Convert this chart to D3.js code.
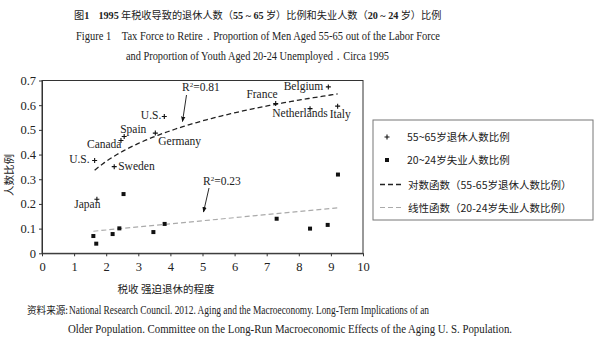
<!DOCTYPE html>
<html><head><meta charset="utf-8">
<script src="https://cdn.jsdelivr.net/npm/d3@7"></script>
<style>
body{margin:0;background:#fff;}
svg{display:block;}
text{white-space:pre;}
.serif{font-family:"Liberation Serif","DejaVu Serif",serif;}
.cjk{font-family:"Noto Sans CJK SC",sans-serif;}
</style></head>
<body>
<svg id="chart" width="606" height="342"></svg>
<script>
// ---- data ----
const retireCountries = ["U.S.","Canada","Spain","Sweden","Germany","U.S.","Japan","France","Belgium","Netherlands","Italy"];
const retireX = [1.64,2.46,2.56,2.25,3.53,3.81,1.71,7.28,8.92,8.35,9.21];
const retireY = [0.376,0.457,0.473,0.351,0.487,0.554,0.219,0.607,0.674,0.586,0.596];
const unempX = [2.54,1.60,1.69,2.20,2.41,3.47,3.82,7.31,8.35,8.90,9.22];
const unempY = [0.240,0.070,0.039,0.078,0.101,0.086,0.119,0.140,0.100,0.115,0.319];
const xTicks = [0,1,2,3,4,5,6,7,8,9,10];
const yTicks = [0,0.1,0.2,0.3,0.4,0.5,0.6,0.7];
const r2Labels = ["0.81","0.23"];
const legendLabels = ["55~65岁退休人数比例","20~24岁失业人数比例","对数函数（55-65岁退休人数比例）","线性函数（20-24岁失业人数比例）"];
const xAxisTitle = "税收 强迫退休的程度";
const yAxisTitle = "人数比例";

// label placement (styling only)
const labelLayout = [
  {dx:-5,dy:2.5,a:"end"},{dx:0.5,dy:8,a:"end"},{dx:-4,dy:-3.5,a:"start"},{dx:4,dy:3.5,a:"start"},
  {dx:3,dy:12,a:"start"},{dx:-3,dy:2,a:"end"},{dx:3.5,dy:8.5,a:"end"},{dx:2,dy:-5.5,a:"end"},
  {dx:-5,dy:3,a:"end"},{dx:-10,dy:8.5,a:"middle"},{dx:-8,dy:12,a:"start"}
];

const svg = d3.select("#chart");
const L=42, R=363, T=80.5, B=253.3;
const x = d3.scaleLinear().domain([0,10]).range([L,R]);
const y = d3.scaleLinear().domain([0,0.7]).range([B,T]);

function fitWidth(sel, target){
  const fs = +sel.attr("font-size");
  const w = sel.node().getComputedTextLength();
  sel.attr("font-size", fs*target/w);
}

// ---- titles ----
const t1 = svg.append("text").attr("class","cjk").attr("x",74).attr("y",19)
  .attr("font-size",12).attr("fill","#222");
[["图",0],["1",1],["\u00a0\u00a0\u00a0\u00a0",0],["1995",1],["\u00a0年税收导致的退休人数（",0],["55\u00a0~\u00a065",1],["\u00a0岁）比例和失业人数（",0],["20\u00a0~\u00a024",1],["\u00a0岁）比例",0]]
  .forEach(([s,b])=>{
    const ts=t1.append("tspan").text(s);
    if(b){ts.attr("font-weight","bold").attr("font-family","Liberation Serif, serif");}
  });
fitWidth(t1,368);
svg.append("text").attr("class","serif").attr("x",76).attr("y",40).attr("font-size",12).attr("fill","#222")
  .attr("textLength",364).attr("lengthAdjust","spacingAndGlyphs")
  .text("Figure 1\u00a0\u00a0\u00a0\u00a0Tax Force to Retire．Proportion of Men Aged 55-65 out of the Labor Force");
svg.append("text").attr("class","serif").attr("x",126).attr("y",60).attr("font-size",12).attr("fill","#222")
  .attr("textLength",263).attr("lengthAdjust","spacingAndGlyphs")
  .text("and Proportion of Youth Aged 20-24 Unemployed．Circa 1995");

// ---- plot frame ----
svg.append("rect").attr("x",L).attr("y",T).attr("width",R-L).attr("height",B-T)
  .attr("fill","none").attr("stroke","#333").attr("stroke-width",1);

const xAxis = svg.append("g").attr("transform",`translate(0,${B})`)
  .call(d3.axisBottom(x).tickValues(xTicks).tickSize(3).tickSizeOuter(0).tickPadding(6).tickFormat(d3.format("d")));
const yAxis = svg.append("g").attr("transform",`translate(${L},0)`)
  .call(d3.axisLeft(y).tickValues(yTicks).tickSize(3).tickSizeOuter(0).tickPadding(3)
    .tickFormat(d=>d===0?"0":d3.format(".1f")(d)));
[xAxis,yAxis].forEach(g=>{
  g.selectAll(".domain").attr("stroke","#333");
  g.selectAll(".tick line").attr("stroke","#333");
  g.selectAll("text").attr("font-family","Liberation Serif, serif").attr("font-size",12.5).attr("fill","#222");
});

// axis titles
svg.append("text").attr("class","cjk").attr("x",166).attr("y",293).attr("text-anchor","middle")
  .attr("font-size",10.5).attr("fill","#222").text(xAxisTitle);
svg.append("text").attr("class","cjk").attr("transform","translate(13,175) rotate(-90)").attr("text-anchor","middle")
  .attr("font-size",10.5).attr("fill","#222").text(yAxisTitle);

// ---- fits (least squares from data) ----
function logFit(xs,ys){
  const lx=xs.map(Math.log), mx=d3.mean(lx), my=d3.mean(ys);
  const b=d3.sum(lx,(v,i)=>(v-mx)*(ys[i]-my))/d3.sum(lx,v=>(v-mx)**2);
  return {a:my-b*mx,b};
}
function linFit(xs,ys){
  const mx=d3.mean(xs), my=d3.mean(ys);
  const b=d3.sum(xs,(v,i)=>(v-mx)*(ys[i]-my))/d3.sum(xs,v=>(v-mx)**2);
  return {a:my-b*mx,b};
}
const lf = logFit(retireX,retireY);
const [lx0,lx1]=d3.extent(retireX);
const logPts = d3.range(0,101).map(i=>{const xv=lx0+(lx1-lx0)*i/100;return [xv,lf.a+lf.b*Math.log(xv)];});
const line = d3.line().x(d=>x(d[0])).y(d=>y(d[1]));
svg.append("path").attr("d",line(logPts)).attr("fill","none").attr("stroke","#222")
  .attr("stroke-width",1.3).attr("stroke-dasharray","5,3");

const nf = linFit(unempX,unempY);
const [ux0,ux1]=d3.extent(unempX);
svg.append("path").attr("d",line([[ux0,nf.a+nf.b*ux0],[ux1,nf.a+nf.b*ux1]]))
  .attr("fill","none").attr("stroke","#aaa").attr("stroke-width",1.2).attr("stroke-dasharray","5,3");

// ---- markers ----
const plusPath = "M-2.5,0H2.5M0,-2.5V2.5";
svg.append("g").selectAll("path").data(retireX).join("path")
  .attr("transform",(d,i)=>`translate(${x(d)},${y(retireY[i])})`)
  .attr("d",plusPath).attr("stroke","#111").attr("stroke-width",1.1);
svg.append("g").selectAll("rect").data(unempX).join("rect")
  .attr("x",d=>x(d)-2).attr("y",(d,i)=>y(unempY[i])-2).attr("width",4).attr("height",4).attr("fill","#111");

// country labels
svg.append("g").selectAll("text").data(retireCountries).join("text")
  .attr("x",(d,i)=>x(retireX[i])+labelLayout[i].dx)
  .attr("y",(d,i)=>y(retireY[i])+labelLayout[i].dy)
  .attr("text-anchor",(d,i)=>labelLayout[i].a)
  .attr("font-family","Liberation Serif, serif").attr("font-size",11.5).attr("fill","#222")
  .text(d=>d);

// ---- R² annotations ----
svg.append("defs").append("marker").attr("id","ah").attr("viewBox","0 0 10 10").attr("refX",9).attr("refY",5)
  .attr("markerWidth",6).attr("markerHeight",6).attr("orient","auto")
  .append("path").attr("d","M0,1L10,5L0,9Z").attr("fill","#111");
function r2(tx,ty,val,x1,y1,x2,y2){
  const t=svg.append("text").attr("x",tx).attr("y",ty).attr("font-family","Liberation Serif, serif")
    .attr("font-size",11.5).attr("fill","#222");
  t.append("tspan").text("R");
  t.append("tspan").attr("dy",-4).attr("font-size",7).text("2");
  t.append("tspan").attr("dy",4).text("="+val);
  svg.append("line").attr("x1",x1).attr("y1",y1).attr("x2",x2).attr("y2",y2)
    .attr("stroke","#111").attr("stroke-width",0.9).attr("marker-end","url(#ah)");
}
r2(182,91,r2Labels[0],186.5,95,182.5,121.5);
r2(203,185,r2Labels[1],209,188,203.5,212);

// ---- legend ----
const lg = svg.append("g");
lg.append("rect").attr("x",373).attr("y",120).attr("width",220).attr("height",100)
  .attr("fill","#fff").attr("stroke","#777").attr("stroke-width",1);
const rowsY=[137,160,184.5,207.5];
lg.append("path").attr("transform",`translate(387,${rowsY[0]})`).attr("d",plusPath).attr("stroke","#111").attr("stroke-width",1.1);
lg.append("rect").attr("x",385).attr("y",rowsY[1]-2).attr("width",4).attr("height",4).attr("fill","#111");
lg.append("line").attr("x1",380).attr("x2",402).attr("y1",rowsY[2]).attr("y2",rowsY[2])
  .attr("stroke","#222").attr("stroke-width",1.3).attr("stroke-dasharray","5,3");
lg.append("line").attr("x1",380).attr("x2",402).attr("y1",rowsY[3]).attr("y2",rowsY[3])
  .attr("stroke","#aaa").attr("stroke-width",1.2).attr("stroke-dasharray","5,3");
lg.selectAll("text.lt").data(legendLabels).join("text").attr("class","lt cjk")
  .attr("x",(d,i)=>i<2?407:408).attr("y",(d,i)=>rowsY[i]+4).attr("font-size",10.5).attr("fill","#222")
  .text(d=>d);

// ---- source ----
svg.append("text").attr("class","cjk").attr("x",27).attr("y",314).attr("font-size",10.5).attr("fill","#222")
  .attr("textLength",41).attr("lengthAdjust","spacingAndGlyphs").text("资料来源:");
svg.append("text").attr("class","serif").attr("x",69).attr("y",314).attr("font-size",11.5).attr("fill","#222")
  .attr("textLength",360).attr("lengthAdjust","spacingAndGlyphs")
  .text("National Research Council. 2012. Aging and the Macroeconomy. Long-Term Implications of an");
svg.append("text").attr("class","serif").attr("x",68).attr("y",333).attr("font-size",11.5).attr("fill","#222")
  .attr("textLength",444).attr("lengthAdjust","spacingAndGlyphs")
  .text("Older Population. Committee on the Long-Run Macroeconomic Effects of the Aging U. S. Population.");
</script>
</body></html>
